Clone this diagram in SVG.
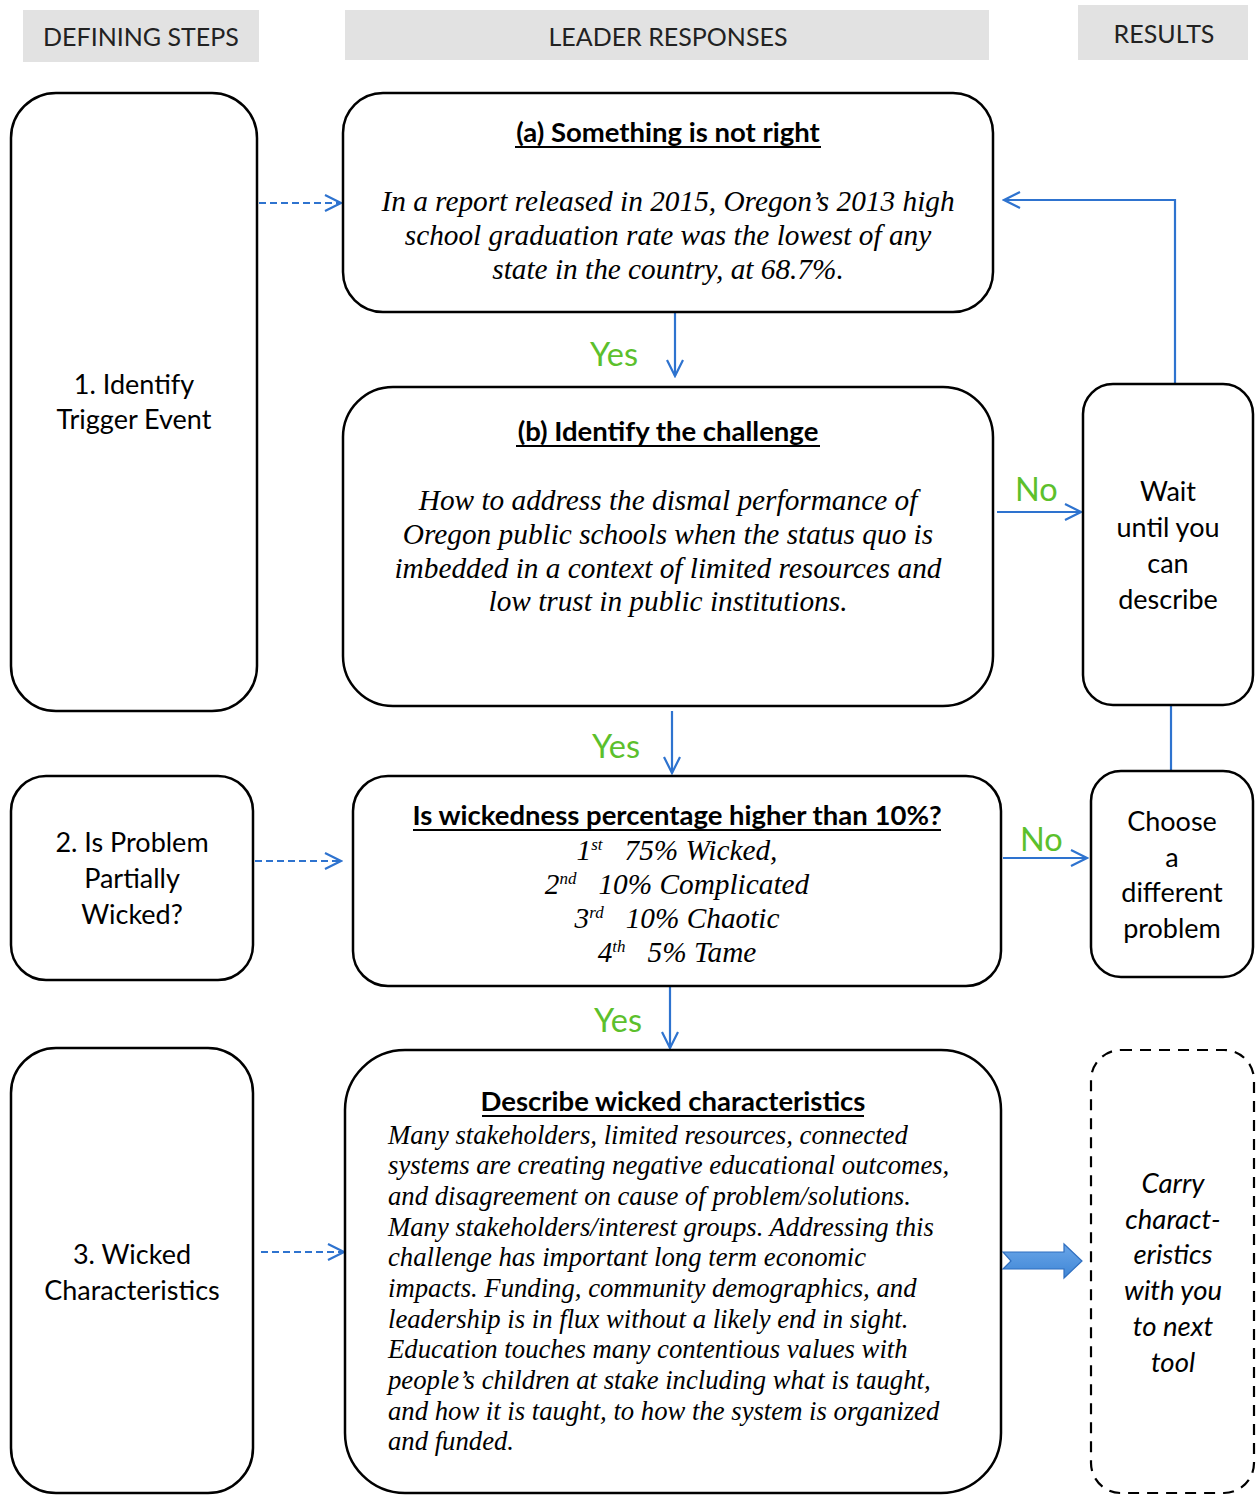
<svg xmlns="http://www.w3.org/2000/svg" width="1259" height="1495" viewBox="0 0 1259 1495">
  <defs>
    <marker id="open" viewBox="0 0 20 20" refX="18" refY="10" markerWidth="20" markerHeight="20" markerUnits="userSpaceOnUse" orient="auto">
      <path d="M2,2 L18,10 L2,18" fill="none" stroke="#2e73cf" stroke-width="2.2"/>
    </marker>
    <linearGradient id="blockFill" x1="0" y1="0" x2="0" y2="1">
      <stop offset="0" stop-color="#6aa6e8"/>
      <stop offset="1" stop-color="#3f86d6"/>
    </linearGradient>
  </defs>
  <style>
    .hdr { fill: #e2e2e2; }
    .hdrt { font-family: Lato, "Open Sans", sans-serif; font-size: 25px; fill: #222; text-anchor: middle; }
    .box { fill: #fff; stroke: #000; stroke-width: 2.5; }
    .dbox { fill: #fff; stroke: #000; stroke-width: 2.2; stroke-dasharray: 11 8; }
    .lbl { font-family: Lato, "Open Sans", sans-serif; font-size: 27px; fill: #000; text-anchor: middle; }
    .ital { font-family: Lato, "Open Sans", sans-serif; font-style: italic; font-size: 27.5px; fill: #000; text-anchor: middle; }
    .ttl { font-family: Lato, "Open Sans", sans-serif; font-weight: bold; font-size: 27.5px; fill: #000; text-anchor: middle; }
    .uline { stroke: #000; stroke-width: 2; }
    .body { font-family: "Liberation Serif", "Times New Roman", serif; font-style: italic; font-size: 29.3px; fill: #000; text-anchor: middle; }
    .body2 { font-family: "Liberation Serif", "Times New Roman", serif; font-style: italic; font-size: 26.7px; fill: #000; }
    .sup { font-size: 17px; }
    .yes { font-family: Lato, "Open Sans", sans-serif; font-size: 32.5px; fill: #5cc02c; }
    .ln { fill: none; stroke: #2e73cf; stroke-width: 2.2; }
    .dash { fill: none; stroke: #2e73cf; stroke-width: 2.2; stroke-dasharray: 7 4; }
  </style>

  <!-- column headers -->
  <g id="headers">
    <rect class="hdr" x="23" y="10" width="236" height="52"/>
    <text class="hdrt" x="141" y="46">DEFINING STEPS</text>
    <rect class="hdr" x="345" y="10" width="644" height="50"/>
    <text class="hdrt" x="668" y="46">LEADER RESPONSES</text>
    <rect class="hdr" x="1078" y="5" width="170" height="55"/>
    <text class="hdrt" x="1164" y="43">RESULTS</text>
  </g>

  <!-- connectors -->
  <g id="connectors">
    <path class="dash" d="M259,203 L341,203" marker-end="url(#open)"/>
    <path class="ln" d="M1175,384 L1175,200 L1004,200" marker-end="url(#open)"/>
    <path class="ln" d="M675,313 L675,376" marker-end="url(#open)"/>
    <path class="ln" d="M997,512 L1081,512" marker-end="url(#open)"/>
    <path class="ln" d="M1171,706 L1171,771"/>
    <path class="ln" d="M672,711 L672,773" marker-end="url(#open)"/>
    <path class="dash" d="M255,861 L341,861" marker-end="url(#open)"/>
    <path class="ln" d="M1003,858 L1087,858" marker-end="url(#open)"/>
    <path class="ln" d="M670,987 L670,1048" marker-end="url(#open)"/>
    <path class="dash" d="M261,1252 L344,1252" marker-end="url(#open)"/>
    <path d="M1003,1252 L1064,1252 L1064,1244 L1082,1261 L1064,1278 L1064,1269 L1003,1269 L1011,1261 Z" fill="url(#blockFill)" stroke="#2f6fc0" stroke-width="1.2"/>
    <text class="yes" x="590" y="366">Yes</text>
    <text class="yes" x="592" y="758">Yes</text>
    <text class="yes" x="594" y="1032">Yes</text>
    <text class="yes" x="1015" y="501">No</text>
    <text class="yes" x="1020" y="851">No</text>
  </g>

  <!-- defining steps -->
  <g id="step1">
    <rect class="box" x="11" y="93" width="246" height="618" rx="45"/>
    <text class="lbl" x="134" y="394">1. Identify</text>
    <text class="lbl" x="134" y="429">Trigger Event</text>
  </g>
  <g id="step2">
    <rect class="box" x="11" y="776" width="242" height="204" rx="35"/>
    <text class="lbl" x="132" y="852">2. Is Problem</text>
    <text class="lbl" x="132" y="888">Partially</text>
    <text class="lbl" x="132" y="924">Wicked?</text>
  </g>
  <g id="step3">
    <rect class="box" x="11" y="1048" width="242" height="445" rx="45"/>
    <text class="lbl" x="132" y="1264">3. Wicked</text>
    <text class="lbl" x="132" y="1300">Characteristics</text>
  </g>

  <!-- leader responses -->
  <g id="something-wrong">
    <rect class="box" x="343" y="93" width="650" height="219" rx="40"/>
    <text class="ttl" x="668" y="142">(a) Something is not right</text>
    <line class="uline" x1="515" y1="147" x2="821" y2="147"/>
    <text class="body" x="668" y="211">In a report released in 2015, Oregon’s 2013 high</text>
    <text class="body" x="668" y="245">school graduation rate was the lowest of any</text>
    <text class="body" x="668" y="279">state in the country, at 68.7%.</text>
  </g>
  <g id="challenge">
    <rect class="box" x="343" y="387" width="650" height="319" rx="50"/>
    <text class="ttl" x="668" y="441">(b) Identify the challenge</text>
    <line class="uline" x1="516" y1="446" x2="820" y2="446"/>
    <text class="body" x="668" y="510">How to address the dismal performance of</text>
    <text class="body" x="668" y="544">Oregon public schools when the status quo is</text>
    <text class="body" x="668" y="578">imbedded in a context of limited resources and</text>
    <text class="body" x="668" y="611">low trust in public institutions.</text>
  </g>
  <g id="wickedness">
    <rect class="box" x="353" y="776" width="648" height="210" rx="35"/>
    <text class="ttl" x="677" y="825">Is wickedness percentage higher than 10%?</text>
    <line class="uline" x1="413" y1="830" x2="941" y2="830"/>
    <text class="body" x="677" y="860">1<tspan class="sup" dy="-10">st</tspan><tspan dy="10" xml:space="preserve">   75% Wicked,</tspan></text>
    <text class="body" x="677" y="894">2<tspan class="sup" dy="-10">nd</tspan><tspan dy="10" xml:space="preserve">   10% Complicated</tspan></text>
    <text class="body" x="677" y="928">3<tspan class="sup" dy="-10">rd</tspan><tspan dy="10" xml:space="preserve">   10% Chaotic</tspan></text>
    <text class="body" x="677" y="962">4<tspan class="sup" dy="-10">th</tspan><tspan dy="10" xml:space="preserve">   5% Tame</tspan></text>
  </g>
  <g id="characteristics">
    <rect class="box" x="345" y="1050" width="656" height="443" rx="60"/>
    <text class="ttl" x="673" y="1111">Describe wicked characteristics</text>
    <line class="uline" x1="482" y1="1116" x2="864" y2="1116"/>
    <text class="body2" x="388" y="1144">Many stakeholders, limited resources, connected</text>
    <text class="body2" x="388" y="1174">systems are creating negative educational outcomes,</text>
    <text class="body2" x="388" y="1205">and disagreement on cause of problem/solutions.</text>
    <text class="body2" x="388" y="1236">Many stakeholders/interest groups. Addressing this</text>
    <text class="body2" x="388" y="1266">challenge has important long term economic</text>
    <text class="body2" x="388" y="1297">impacts. Funding, community demographics, and</text>
    <text class="body2" x="388" y="1328">leadership is in flux without a likely end in sight.</text>
    <text class="body2" x="388" y="1358">Education touches many contentious values with</text>
    <text class="body2" x="388" y="1389">people’s children at stake including what is taught,</text>
    <text class="body2" x="388" y="1420">and how it is taught, to how the system is organized</text>
    <text class="body2" x="388" y="1450">and funded.</text>
  </g>

  <!-- results -->
  <g id="wait">
    <rect class="box" x="1083" y="384" width="170" height="321" rx="30"/>
    <text class="lbl" x="1168" y="501">Wait</text>
    <text class="lbl" x="1168" y="537">until you</text>
    <text class="lbl" x="1168" y="573">can</text>
    <text class="lbl" x="1168" y="609">describe</text>
  </g>
  <g id="choose">
    <rect class="box" x="1091" y="771" width="162" height="206" rx="30"/>
    <text class="lbl" x="1172" y="831">Choose</text>
    <text class="lbl" x="1172" y="867">a</text>
    <text class="lbl" x="1172" y="902">different</text>
    <text class="lbl" x="1172" y="938">problem</text>
  </g>
  <g id="carry">
    <rect class="dbox" x="1091" y="1050" width="163" height="443" rx="30"/>
    <text class="ital" x="1173" y="1193">Carry</text>
    <text class="ital" x="1173" y="1229">charact-</text>
    <text class="ital" x="1173" y="1264">eristics</text>
    <text class="ital" x="1173" y="1300">with you</text>
    <text class="ital" x="1173" y="1336">to next</text>
    <text class="ital" x="1173" y="1372">tool</text>
  </g>
</svg>
